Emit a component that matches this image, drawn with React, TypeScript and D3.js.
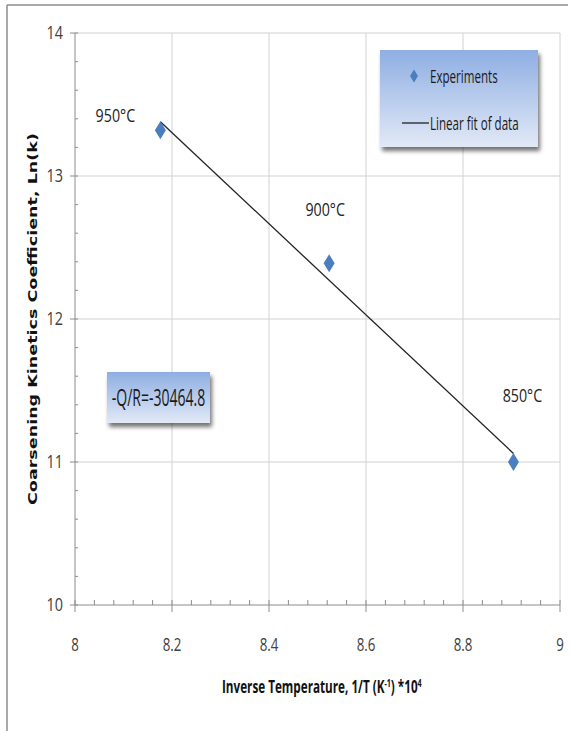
import React from "react";
import * as d3 from "d3";

const tempLabels = ["950°C", "900°C", "850°C"];
const invT = [8.176, 8.524, 8.904];
const lnK = [13.32, 12.39, 11.0];
const fitX = [8.176, 8.904];
const fitY = [13.38, 11.06];
const xTickValues = [8, 8.2, 8.4, 8.6, 8.8, 9];
const xTickLabels = ["8", "8.2", "8.4", "8.6", "8.8", "9"];
const yTickValues = [10, 11, 12, 13, 14];
const yTickLabels = ["10", "11", "12", "13", "14"];
const legendLabels = ["Experiments", "Linear fit of data"];
const slopeLabel = "-Q/R=-30464.8";
const xTitle = "Inverse Temperature, 1/T (K";
const yTitle = "Coarsening Kinetics Coefficient, Ln(k)";

const W = 572;
const H = 731;
const FONT = "'Open Sans', sans-serif";

function CText(props: {
  x: number;
  y: number;
  sx: number;
  size: number;
  anchor?: string;
  weight?: string;
  fill?: string;
  children: React.ReactNode;
}) {
  return (
    <g transform={`translate(${props.x},${props.y}) scale(${props.sx},1)`}>
      <text
        x={0}
        y={0}
        dy="0.35em"
        textAnchor={props.anchor || "start"}
        fontFamily={FONT}
        fontSize={props.size}
        fontWeight={props.weight || "normal"}
        fill={props.fill || "#1a1a1a"}
      >
        {props.children}
      </text>
    </g>
  );
}

export default function App() {
  const x = d3.scaleLinear().domain([8, 9]).range([75, 560]);
  const y = d3.scaleLinear().domain([10, 14]).range([605, 33]);
  const xMinor = d3.range(8, 9.0001, 0.04);
  const yMinor = d3.range(10, 14.0001, 0.2);
  const line = d3.line<number>().x((d, i) => x(fitX[i])).y((d, i) => y(fitY[i]));
  const diamond = (cx: number, cy: number, w: number, h: number) =>
    `M${cx},${cy - h / 2}L${cx + w / 2},${cy}L${cx},${cy + h / 2}L${cx - w / 2},${cy}Z`;
  const labelPos = [
    { dx: -45, dy: -15 },
    { dx: -4, dy: -54 },
    { dx: 9, dy: -67 },
  ];
  return (
    <svg width={W} height={H} style={{ position: "absolute", left: 0, top: 0, background: "#fff" }}>
      <defs>
        <linearGradient id="boxg" x1="0" y1="0" x2="0" y2="1">
          <stop offset="0" stopColor="#8eaee3" />
          <stop offset="1" stopColor="#e2e9f6" />
        </linearGradient>
        <filter id="shadow" x="-10%" y="-10%" width="125%" height="140%">
          <feDropShadow dx="2" dy="4" stdDeviation="2" floodColor="#000" floodOpacity="0.55" />
        </filter>
      </defs>
      {/* outer frame */}
      <line x1={7} y1={5} x2={568} y2={5} stroke="#8c8c8c" strokeWidth={1.5} />
      <line x1={7} y1={5} x2={7} y2={731} stroke="#8c8c8c" strokeWidth={1.5} />
      {/* gridlines */}
      {xTickValues.slice(1).map((v) => (
        <line key={"gx" + v} x1={x(v)} x2={x(v)} y1={y(14)} y2={y(10)} stroke="#d2d2d2" strokeWidth={1} />
      ))}
      {yTickValues.slice(1).map((v) => (
        <line key={"gy" + v} x1={x(8)} x2={x(9)} y1={y(v)} y2={y(v)} stroke="#d2d2d2" strokeWidth={1.2} />
      ))}
      {/* axes */}
      <line x1={x(8)} x2={x(8)} y1={y(14)} y2={y(10)} stroke="#8c8c8c" strokeWidth={1} />
      <line x1={x(8)} x2={x(9)} y1={y(10)} y2={y(10)} stroke="#8c8c8c" strokeWidth={1} />
      {yMinor.map((v, i) => (
        <line key={"ym" + i} x1={x(8)} x2={x(8) + 3} y1={y(v)} y2={y(v)} stroke="#8c8c8c" />
      ))}
      {yTickValues.map((v) => (
        <line key={"yt" + v} x1={x(8) - 5} x2={x(8)} y1={y(v)} y2={y(v)} stroke="#8c8c8c" />
      ))}
      {xMinor.map((v, i) => (
        <line key={"xm" + i} x1={x(v)} x2={x(v)} y1={y(10)} y2={y(10) - 5} stroke="#8c8c8c" />
      ))}
      {xTickValues.map((v) => (
        <line key={"xt" + v} x1={x(v)} x2={x(v)} y1={y(10)} y2={y(10) + 7} stroke="#8c8c8c" />
      ))}
      {/* tick labels */}
      {yTickValues.map((v, i) => (
        <CText key={"yl" + v} x={63} y={y(v)} sx={0.8} size={18} anchor="end" fill="#404040">
          {yTickLabels[i]}
        </CText>
      ))}
      {xTickValues.map((v, i) => (
        <CText key={"xl" + v} x={x(v)} y={645} sx={0.74} size={18} anchor="middle" fill="#404040">
          {xTickLabels[i]}
        </CText>
      ))}
      {/* axis titles */}
      <g transform="translate(222,687) scale(0.65,1)">
        <text x={0} y={0} dy="0.35em" fontFamily={FONT} fontSize={18} fontWeight="bold" fill="#111">
          {xTitle}
          <tspan dy={-6} fontSize={11}>-1</tspan>
          <tspan dy={6}>) *10</tspan>
          <tspan dy={-6} fontSize={11}>4</tspan>
        </text>
      </g>
      <text
        transform={`translate(37,319) rotate(-90)`}
        textAnchor="middle"
        fontFamily="'DejaVu Sans', Verdana, sans-serif"
        fontSize={12.5}
        fontWeight="bold"
        fill="#111"
        textLength={372}
        lengthAdjust="spacingAndGlyphs"
      >
        {yTitle}
      </text>
      {/* fit line */}
      <path d={line(fitX) || ""} fill="none" stroke="#222" strokeWidth={1.3} />
      {/* points */}
      {invT.map((v, i) => (
        <path key={"p" + i} d={diamond(x(v), y(lnK[i]), 11, 18)} fill="#4a7ebf" />
      ))}
      {invT.map((v, i) => (
        <CText
          key={"t" + i}
          x={x(v) + labelPos[i].dx}
          y={y(lnK[i]) + labelPos[i].dy}
          sx={0.75}
          size={19}
          anchor="middle"
          fill="#222"
        >
          {tempLabels[i]}
        </CText>
      ))}
      {/* legend */}
      <rect x={380} y={50} width={158} height={97} fill="url(#boxg)" filter="url(#shadow)" />
      <path d={diamond(414, 76, 8, 13)} fill="#4a7ebf" />
      <CText x={430} y={76} sx={0.61} size={19}>
        {legendLabels[0]}
      </CText>
      <line x1={402} x2={429} y1={123} y2={123} stroke="#222" strokeWidth={1.3} />
      <CText x={430} y={123} sx={0.61} size={19}>
        {legendLabels[1]}
      </CText>
      {/* slope box */}
      <rect x={107} y={372} width={103} height={51} fill="url(#boxg)" filter="url(#shadow)" />
      <CText x={158.5} y={398} sx={0.61} size={23} anchor="middle">
        {slopeLabel}
      </CText>
    </svg>
  );
}
